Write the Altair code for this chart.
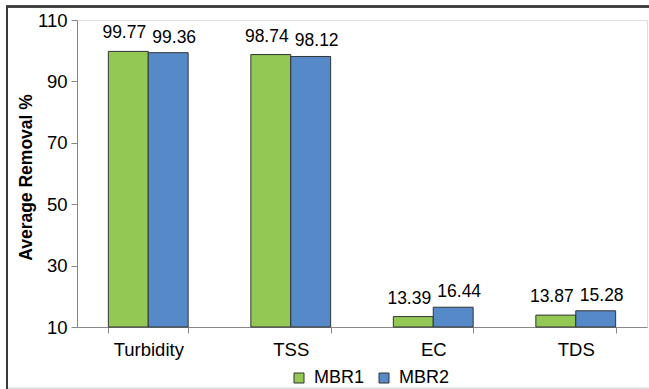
import altair as alt
import pandas as pd

# Average removal (%) of each parameter for the two membrane bioreactors
parameters = ["Turbidity", "TSS", "EC", "TDS"]
mbr1 = [99.77, 98.74, 13.39, 13.87]
mbr2 = [99.36, 98.12, 16.44, 15.28]
series = ["MBR1", "MBR2"]
colors = ["#92c853", "#5689c7"]
y_ticks = [10, 30, 50, 70, 90, 110]
BASELINE = 10

rows = []
for i, p in enumerate(parameters):
    rows.append({"parameter": p, "reactor": "MBR1", "removal": mbr1[i]})
    rows.append({"parameter": p, "reactor": "MBR2", "removal": mbr2[i]})
df = pd.DataFrame(rows)

FONT = "Liberation Sans"

x_enc = alt.X(
    "parameter:N",
    sort=parameters,
    scale=alt.Scale(paddingInner=0.44, paddingOuter=0.22),
    axis=alt.Axis(
        title=None,
        labelAngle=0,
        tickBand="extent",
        tickSize=6,
        labelPadding=7,
        labelFontSize=18.5,
    ),
)
xoff_enc = alt.XOffset(
    "reactor:N", sort=series, scale=alt.Scale(paddingInner=0, paddingOuter=0)
)
y_enc = alt.Y(
    "removal:Q",
    scale=alt.Scale(domain=[10, 110], zero=False, nice=False),
    axis=alt.Axis(
        title="Average Removal %",
        values=y_ticks,
        tickSize=6,
        labelPadding=4,
        labelFontSize=18.5,
        titleFontSize=17.5,
        titleFontWeight="bold",
        titlePadding=2,
        titleY=157,
        grid=False,
    ),
)

bars = alt.Chart(df).mark_bar(stroke="#333333", strokeWidth=1).encode(
    x=x_enc,
    xOffset=xoff_enc,
    y=y_enc,
    y2=alt.datum(BASELINE),
    color=alt.Color(
        "reactor:N",
        sort=series,
        scale=alt.Scale(domain=series, range=colors),
        legend=alt.Legend(
            title=None,
            orient="none",
            direction="horizontal",
            legendX=213,
            legendY=349,
            symbolType="square",
            symbolSize=100,
            symbolStrokeColor="#333333",
            symbolStrokeWidth=1,
            symbolOpacity=1,
            labelFontSize=18,
            labelOffset=6,
            columnPadding=10,
        ),
    ),
)

def value_labels(name, shift, lift):
    return (
        alt.Chart(df)
        .transform_filter(alt.datum.reactor == name)
        .mark_text(baseline="bottom", dy=-lift, dx=shift, fontSize=17.5, font=FONT, color="black")
        .encode(
            x=alt.X("parameter:N", sort=parameters),
            xOffset=alt.XOffset("reactor:N", sort=series),
            y=alt.Y("removal:Q"),
            text=alt.Text("removal:Q", format=".2f"),
        )
    )

# Thin frame drawn round the figure
frame = alt.Chart(df).mark_rect(
    fill=None, stroke="#3a3a3a", strokeWidth=1.6
).encode(
    x=alt.value(-70), x2=alt.value(590), y=alt.value(-13.5), y2=alt.value(400)
)
bottom_edge = alt.Chart(df).mark_rule(stroke="#e4e4e4", strokeWidth=1.5).encode(
    x=alt.value(-69), x2=alt.value(590), y=alt.value(368), y2=alt.value(368)
)

chart = (
    alt.layer(
        frame,
        bottom_edge,
        bars,
        value_labels("MBR1", -4, 9),
        value_labels("MBR2", 6, 6),
    )
    .properties(
        width=570,
        height=307,
        autosize=alt.AutoSizeParams(type="none"),
        padding={"left": 77, "top": 20, "right": 2, "bottom": 62},
    )
    .configure_view(stroke=None)
    .configure_axis(
        labelFont=FONT,
        titleFont=FONT,
        labelColor="black",
        titleColor="black",
        domainColor="#222222",
        tickColor="#222222",
        domainWidth=1.2,
        tickWidth=1.2,
    )
    .configure_legend(labelFont=FONT, labelColor="black")
    .configure(background="white")
)

chart.save("out.html", embed_options={"renderer": "svg", "actions": False})
